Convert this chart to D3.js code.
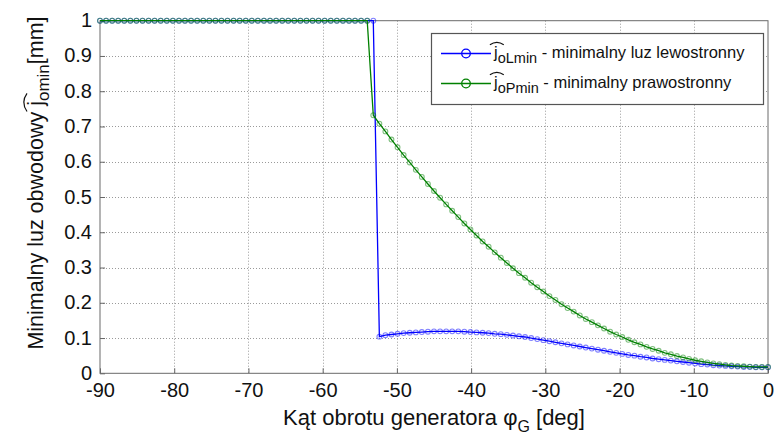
<!DOCTYPE html>
<html>
<head>
<meta charset="utf-8">
<script src="https://cdn.jsdelivr.net/npm/d3@7"></script>
<style>
body { margin: 0; background: #fff; }
text { font-family: "Liberation Sans", Arial, sans-serif; fill: #111; }
</style>
</head>
<body>
<div id="chart"></div>
<script>
// kat obrotu generatora [deg]
var angle = [-90, -89.18, -88.36, -87.55, -86.73, -85.91, -85.09, -84.27, -83.45, -82.64,
	-81.82, -81, -80.18, -79.36, -78.55, -77.73, -76.91, -76.09, -75.27, -74.45,
	-73.64, -72.82, -72, -71.18, -70.36, -69.55, -68.73, -67.91, -67.09, -66.27,
	-65.45, -64.64, -63.82, -63, -62.18, -61.36, -60.55, -59.73, -58.91, -58.09,
	-57.27, -56.45, -55.64, -54.82, -54, -53.18, -52.36, -51.55, -50.73, -49.91,
	-49.09, -48.27, -47.45, -46.64, -45.82, -45, -44.18, -43.36, -42.55, -41.73,
	-40.91, -40.09, -39.27, -38.45, -37.64, -36.82, -36, -35.18, -34.36, -33.55,
	-32.73, -31.91, -31.09, -30.27, -29.45, -28.64, -27.82, -27, -26.18, -25.36,
	-24.55, -23.73, -22.91, -22.09, -21.27, -20.45, -19.64, -18.82, -18, -17.18,
	-16.36, -15.55, -14.73, -13.91, -13.09, -12.27, -11.45, -10.64, -9.82, -9,
	-8.18, -7.36, -6.55, -5.73, -4.91, -4.09, -3.27, -2.45, -1.64, -0.82, 0];

// minimalny luz lewostronny [mm]
var jL = [1, 1, 1, 1, 1, 1, 1, 1, 1, 1,
	1, 1, 1, 1, 1, 1, 1, 1, 1, 1,
	1, 1, 1, 1, 1, 1, 1, 1, 1, 1,
	1, 1, 1, 1, 1, 1, 1, 1, 1, 1,
	1, 1, 1, 1, 1, 1, 0.104, 0.108, 0.110, 0.112,
	0.114, 0.115, 0.116, 0.117, 0.118, 0.119, 0.119, 0.119, 0.119, 0.119,
	0.118, 0.117, 0.116, 0.115, 0.114, 0.112, 0.111, 0.109, 0.107, 0.105,
	0.103, 0.100, 0.097, 0.094, 0.091, 0.088, 0.085, 0.082, 0.079, 0.076,
	0.073, 0.070, 0.067, 0.064, 0.061, 0.058, 0.055, 0.052, 0.050, 0.047,
	0.045, 0.042, 0.040, 0.038, 0.036, 0.034, 0.032, 0.030, 0.028, 0.026,
	0.025, 0.023, 0.022, 0.021, 0.020, 0.019, 0.018, 0.018, 0.017, 0.017, 0.017];

// minimalny luz prawostronny [mm]
var jP = [1, 1, 1, 1, 1, 1, 1, 1, 1, 1,
	1, 1, 1, 1, 1, 1, 1, 1, 1, 1,
	1, 1, 1, 1, 1, 1, 1, 1, 1, 1,
	1, 1, 1, 1, 1, 1, 1, 1, 1, 1,
	1, 1, 1, 1, 1, 0.732, 0.708, 0.686, 0.663, 0.641,
	0.619, 0.598, 0.577, 0.557, 0.537, 0.517, 0.498, 0.479, 0.461, 0.443,
	0.425, 0.408, 0.391, 0.374, 0.359, 0.343, 0.328, 0.313, 0.298, 0.284,
	0.271, 0.257, 0.244, 0.232, 0.219, 0.208, 0.196, 0.185, 0.175, 0.164,
	0.154, 0.145, 0.136, 0.127, 0.118, 0.110, 0.103, 0.095, 0.088, 0.082,
	0.075, 0.069, 0.064, 0.058, 0.054, 0.049, 0.045, 0.041, 0.037, 0.034,
	0.031, 0.028, 0.026, 0.024, 0.022, 0.021, 0.020, 0.019, 0.018, 0.018, 0.018];

var xTicks = [-90, -80, -70, -60, -50, -40, -30, -20, -10, 0];
var yTicks = [0, 0.1, 0.2, 0.3, 0.4, 0.5, 0.6, 0.7, 0.8, 0.9, 1];

var series = [
	{values: jL, color: "#0000ff", sub: "oLmin", label: " - minimalny luz lewostronny"},
	{values: jP, color: "#008000", sub: "oPmin", label: " - minimalny prawostronny"}
];

var width = 775, height = 443;
var margin = {top: 20.7, right: 7, bottom: 69.7, left: 100};

var svg = d3.select("#chart").append("svg")
	.attr("width", width)
	.attr("height", height);

var x = d3.scaleLinear()
	.domain([-90, 0])
	.range([margin.left, width - margin.right]);

var y = d3.scaleLinear()
	.domain([0, 1])
	.range([height - margin.bottom, margin.top]);

//grid
var grid = svg.append("g").attr("class", "grid")
	.attr("stroke", "#9a9a9a")
	.attr("stroke-width", 1)
	.attr("stroke-dasharray", "1,2");

grid.selectAll(".gx")
	.data(xTicks.slice(1, -1)).enter()
	.append("line")
	.attr("x1", function(d) { return Math.round(x(d)) + 0.5; })
	.attr("x2", function(d) { return Math.round(x(d)) + 0.5; })
	.attr("y1", y(1))
	.attr("y2", y(0));

grid.selectAll(".gy")
	.data(yTicks.slice(1, -1)).enter()
	.append("line")
	.attr("x1", x(-90))
	.attr("x2", x(0))
	.attr("y1", function(d) { return Math.round(y(d)) + 0.5; })
	.attr("y2", function(d) { return Math.round(y(d)) + 0.5; });

//axes - plain hyphen like matlab
var fmt = function(d) { return String(d); };

var xAxis = d3.axisBottom(x)
	.tickValues(xTicks)
	.tickFormat(fmt)
	.tickSize(-5)
	.tickSizeOuter(0)
	.tickPadding(10);

var yAxis = d3.axisLeft(y)
	.tickValues(yTicks)
	.tickFormat(fmt)
	.tickSize(-5)
	.tickSizeOuter(0)
	.tickPadding(8);

var gx = svg.append("g")
	.attr("transform", "translate(0," + y(0) + ")")
	.call(xAxis);

var gy = svg.append("g")
	.attr("transform", "translate(" + x(-90) + ",0)")
	.call(yAxis);

[gx, gy].forEach(function(g) {
	g.select(".domain").remove();
	g.selectAll(".tick line").attr("stroke", "#666");
	g.selectAll(".tick text")
		.style("font-family", "'Liberation Sans', Arial, sans-serif")
		.style("font-size", "20px")
		.attr("fill", "#111");
});
gy.selectAll(".tick text").attr("dy", "0.3em");

svg.append("rect")
	.attr("x", x(-90))
	.attr("y", y(1))
	.attr("width", x(0) - x(-90))
	.attr("height", y(0) - y(1))
	.attr("fill", "none")
	.attr("stroke", "#6a6a6a")
	.attr("stroke-width", 1);

//data lines
var line = d3.line()
	.x(function(d, i) { return x(angle[i]); })
	.y(function(d) { return y(d); });

series.forEach(function(s) {
	var g = svg.append("g");
	g.append("path")
		.datum(s.values)
		.attr("fill", "none")
		.attr("stroke", s.color)
		.attr("stroke-width", 1.3)
		.attr("d", line);
	g.selectAll("circle")
		.data(s.values).enter()
		.append("circle")
		.attr("cx", function(d, i) { return x(angle[i]); })
		.attr("cy", function(d) { return y(d); })
		.attr("r", 2.4)
		.attr("fill", "none")
		.attr("stroke", s.color)
		.attr("stroke-opacity", 0.5)
		.attr("stroke-width", 1.1);
});

//hat over the j: small arc over a char
function hat(g, text, idx, fs) {
	var box = text.node().getExtentOfChar(idx);
	var cx = box.x + box.width / 2 + 1;
	var top = box.y - fs * 0.02;
	var w = fs * 0.42;
	g.append("path")
		.attr("d", "M" + (cx - w) + "," + (top + fs * 0.16) +
			" Q" + cx + "," + (top - fs * 0.14) + " " + (cx + w) + "," + (top + fs * 0.16))
		.attr("fill", "none")
		.attr("stroke", "#111")
		.attr("stroke-width", 1.2);
}

//legend
var legend = svg.append("g");
legend.append("rect")
	.attr("x", 431.5)
	.attr("y", 33.5)
	.attr("width", 332)
	.attr("height", 71)
	.attr("fill", "#fff")
	.attr("stroke", "#555")
	.attr("stroke-width", 1.2);

series.forEach(function(s, i) {
	var ly = 53.5 + i * 30;
	legend.append("line")
		.attr("x1", 441).attr("x2", 491)
		.attr("y1", ly).attr("y2", ly)
		.attr("stroke", s.color)
		.attr("stroke-width", 1.3);
	legend.append("circle")
		.attr("cx", 466).attr("cy", ly)
		.attr("r", 4.3)
		.attr("fill", "none")
		.attr("stroke", s.color)
		.attr("stroke-width", 1.3);
	var t = legend.append("text")
		.attr("x", 494)
		.attr("y", ly + 4)
		.style("font-size", "16.5px");
	t.append("tspan").text("j");
	t.append("tspan").attr("dy", 5).style("font-size", "14.5px").text(s.sub);
	t.append("tspan").attr("dy", -5).text(s.label);
	hat(legend, t, 0, 16.5);
});

//axis titles
var xt = svg.append("text")
	.attr("x", 434)
	.attr("y", 425)
	.attr("text-anchor", "middle")
	.style("font-size", "22px");
xt.append("tspan").text("Kąt obrotu generatora φ");
xt.append("tspan").attr("dy", 7).style("font-size", "16px").text("G");
xt.append("tspan").attr("dy", -7).text(" [deg]");

var yt = svg.append("g")
	.attr("transform", "translate(43,183) rotate(-90)");
var ytt = yt.append("text")
	.attr("x", 0)
	.attr("y", 0)
	.attr("text-anchor", "middle")
	.style("font-size", "21.5px");
ytt.append("tspan").text("Minimalny luz obwodowy j");
ytt.append("tspan").attr("dy", 6).style("font-size", "17px").text("omin");
ytt.append("tspan").attr("dy", -6).text("[mm]");
hat(yt, ytt, 23, 21.5);
</script>
</body>
</html>
